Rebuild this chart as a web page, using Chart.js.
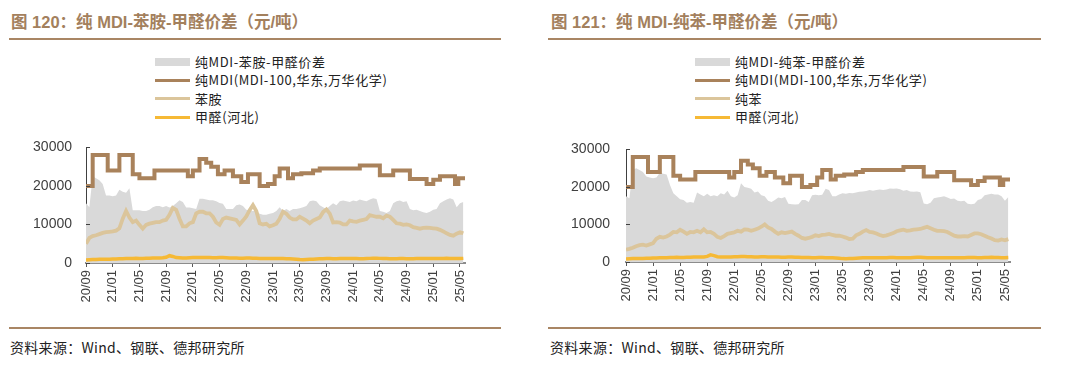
<!DOCTYPE html>
<html>
<head>
<meta charset="utf-8">
<script src="https://cdn.jsdelivr.net/npm/chart.js@4"></script>
<style>
body{margin:0;width:1080px;height:378px;background:#fff;position:relative;overflow:hidden;font-family:"Liberation Sans",Arial,sans-serif}
.title{position:absolute;top:9px;font-weight:bold;font-size:16.5px;font-family:"Liberation Sans","Noto Sans CJK SC",sans-serif;color:#a3805d;white-space:nowrap}
.rule{position:absolute;height:2px;background:#a98664}
.legend{position:absolute;top:53px;font:13px "Noto Sans CJK SC",sans-serif;letter-spacing:0.6px;color:#222}
.legend div{height:18.3px;line-height:18.3px;display:flex;align-items:center;white-space:nowrap}
.sw{width:35px;margin-right:5px}
.src{position:absolute;top:337px;font:14px "Noto Sans CJK SC",sans-serif;letter-spacing:0.3px;color:#222;white-space:nowrap}
canvas{position:absolute;top:125px}
</style>
</head>
<body>
<div class="title" style="left:11px">图 120：纯 MDI-苯胺-甲醛价差（元/吨）</div>
<div class="rule" style="left:9px;width:492px;top:38px"></div>
<div class="legend" id="legL" style="left:155px"></div>
<canvas id="cL" width="540" height="200" style="left:0"></canvas>
<div class="rule" style="left:9px;width:492px;top:327px"></div>
<div class="src" style="left:10px">资料来源：Wind、钢联、德邦研究所</div>

<div class="title" style="left:551px">图 121：纯 MDI-纯苯-甲醛价差（元/吨）</div>
<div class="rule" style="left:548px;width:493px;top:38px"></div>
<div class="legend" id="legR" style="left:695px"></div>
<canvas id="cR" width="540" height="200" style="left:540px"></canvas>
<div class="rule" style="left:548px;width:493px;top:327px"></div>
<div class="src" style="left:550px">资料来源：Wind、钢联、德邦研究所</div>

<script>
// half-month samples from 2020/09 (index 0) to about 2025/06
var spreadAniline = [
  15500, 14500, 22500, 22000, 21500, 20500, 17500, 17500, 17300, 17500,
  19000, 18500, 18200, 19400, 13700, 13700, 13700, 13500, 13500, 13800,
  14500, 14800, 14800, 14500, 14800, 14400, 14800, 15500, 16300, 15800,
  14400, 14400, 14200, 14000, 16700, 16700, 16500, 16300, 16300, 16000,
  15600, 15400, 14000, 14000, 14000, 15000, 15200, 14800, 13800, 13700,
  13500, 13500, 12800, 12500, 12500, 12800, 13000, 13500, 14500, 13500,
  14000, 13500, 14000, 14000, 14200, 14500, 14800, 16000, 16200, 16000,
  15000, 14500, 14000, 14800, 15500, 15000, 16000, 16200, 16000, 15800,
  16200, 16000, 16500, 16200, 16000, 16500, 16800, 16600, 13500, 13300,
  13000, 13500, 15500, 16000, 16200, 15800, 16000, 14000, 13700, 13800,
  13500, 13200, 13000, 13300, 13800, 14000, 15500, 16000, 16500, 16800,
  16500, 14500, 15500, 15800
];
var aniline = [
  5000, 6500, 7000, 7200, 7500, 7800, 8000, 8100, 8200, 8400,
  9000, 11500, 13500, 11800, 10600, 11000, 9900, 8900, 9900, 10200,
  10400, 10600, 10600, 11000, 11200, 12500, 14300, 13800, 11500, 9500,
  9500, 10300, 10600, 12900, 13300, 13300, 12900, 12900, 12000, 10500,
  9900, 11400, 11800, 11600, 11400, 11200, 10000, 11000, 12100, 13700,
  15000, 13500, 10300, 10000, 10200, 9500, 9800, 10200, 11500, 13300,
  12800, 11800, 11300, 11300, 12000, 11500, 11000, 10300, 11000, 11400,
  11800, 13200, 13900, 12800, 10500, 10600, 10500, 10000, 10000, 11000,
  10800, 10700, 11000, 11200, 11400, 12400, 12200, 12000, 12000, 11600,
  12300, 12000, 11200, 10300, 10200, 9900, 10000, 9800, 9300, 9100,
  8900, 9100, 9200, 9100, 9000, 8900, 8600, 8200, 7700, 7300,
  7100, 7600, 8000, 7700
];
var spreadBenzene = [
  17500, 17000, 24500, 25000, 24500, 24000, 22800, 22500, 22300, 22500,
  23800, 23500, 23300, 20500, 18300, 17500, 16700, 16500, 15800, 16000,
  15800, 18500, 18000, 17500, 18200, 17500, 17800, 17500, 18300, 18000,
  19000, 17500, 17200, 17800, 21000, 20000, 19800, 19500, 18500, 18800,
  17800, 17500, 16300, 16000, 16500, 17200, 17000, 17300, 15500, 15400,
  15300, 15400, 16500, 16500, 16000, 17800, 17900, 17800, 17900, 19500,
  19200, 17500, 17500, 18000, 18300, 18200, 18400, 18300, 18500, 18700,
  18800, 18900, 19200, 19000, 19200, 19300, 19200, 19300, 19600, 19500,
  19600, 19400, 19000, 19200, 18800, 18700, 18800, 18600, 15600, 15400,
  15800, 17000, 17200, 17300, 17500, 17200, 16800, 16900, 16300, 16200,
  16300, 15500, 15400, 15500, 16500, 16800, 17800, 18000, 18200, 18000,
  18000, 17500, 16300, 17300
];
var benzene = [
  3300, 3500, 3800, 4200, 4500, 4600, 4400, 4700, 5000, 6200,
  6700, 6500, 6800, 7300, 8000, 7900, 8600, 8100, 7500, 8000,
  7900, 8300, 7900, 8700, 7900, 8000, 7500, 6700, 6400, 6900,
  7500, 7700, 7900, 8300, 8100, 8700, 8600, 8300, 8600, 8900,
  9400, 10000, 9200, 8800, 8100, 7500, 7900, 7700, 7900, 8100,
  7500, 7000, 6400, 6200, 6400, 6700, 7100, 6900, 7200, 7300,
  7500, 7200, 7000, 7000, 6800, 6500, 6100, 6200, 7100, 7500,
  8100, 8500, 8000, 7900, 7600, 7200, 6900, 7100, 7400, 7700,
  8200, 8400, 8600, 8300, 8400, 8600, 8700, 8800, 9100, 9400,
  9000, 8600, 8300, 8300, 8200, 8000, 7500, 7000, 6800, 6800,
  6900, 6800, 7200, 7600, 7600, 7400, 7000, 6600, 6250, 5800,
  5700, 6000, 5800, 6100
];
var formaldehyde = [
  800, 850, 900, 900, 950, 950, 1000, 1000, 1050, 1050,
  1100, 1100, 1150, 1200, 1200, 1250, 1200, 1200, 1250, 1250,
  1300, 1300, 1300, 1350, 1500, 1900, 1700, 1400, 1350, 1300,
  1300, 1350, 1400, 1400, 1450, 1450, 1400, 1400, 1350, 1350,
  1400, 1400, 1350, 1300, 1300, 1300, 1250, 1250, 1300, 1300,
  1250, 1250, 1200, 1200, 1200, 1150, 1150, 1200, 1200, 1150,
  1100, 1100, 1050, 1000, 900, 850, 900, 950, 1000, 1050,
  1100, 1100, 1150, 1150, 1100, 1100, 1150, 1150, 1200, 1200,
  1150, 1150, 1100, 1100, 1150, 1200, 1250, 1250, 1200, 1150,
  1150, 1100, 1100, 1100, 1150, 1150, 1100, 1100, 1100, 1150,
  1150, 1200, 1200, 1200, 1150, 1150, 1200, 1200, 1250, 1200,
  1200, 1150, 1150, 1200
];
// MDI list price changes: month offset from 2020/09 and new price
var mdiMonth = [0, 1, 3.25, 5, 7, 8, 10.25, 15.25, 16, 17, 18, 18.75, 19.75, 20.75, 22, 23.25,
  24.25, 26, 27.25, 28.25, 29, 30.25, 31, 32.25, 34, 35, 41, 44, 46, 48.5, 51, 52, 53, 55.25, 55.75, 56.75];
var mdiPrice = [20000, 28000, 24000, 28000, 23000, 22000, 24000, 22500, 24000, 27000, 26000, 25000, 23000, 24000, 22500, 21000,
  23000, 20000, 20500, 22500, 24500, 22000, 23000, 23300, 24000, 24500, 25300, 22800, 24000, 21800, 20500, 21600, 22500, 20500, 22000, 22000];

var yTicks = [0, 10000, 20000, 30000];

function pts(arr) {
  return arr.map(function (v, i) { return { x: i / 2, y: v }; });
}
function monthLabel(v) {
  var t = 2020 * 12 + 8 + v;
  var yy = Math.floor(t / 12) % 100, mm = t % 12 + 1;
  return (yy < 10 ? '0' : '') + yy + '/' + (mm < 10 ? '0' : '') + mm;
}

var innerTicks = {
  id: 'innerTicks',
  afterDatasetsDraw: function (chart) {
    var y = chart.scales.y, ctx = chart.ctx, x0 = chart.chartArea.left;
    ctx.save();
    ctx.strokeStyle = '#404040';
    ctx.lineWidth = 1;
    y.ticks.forEach(function (t) {
      var py = Math.round(y.getPixelForValue(t.value)) + 0.5;
      ctx.beginPath(); ctx.moveTo(x0, py); ctx.lineTo(x0 + 4, py); ctx.stroke();
    });
    ctx.restore();
  }
};

var colors = ['#d9d9d9', '#a9825b', '#dbc59b', '#f6b935'];

function makeChart(id, legendId, names, spread, feed, lay) {
  var mdi = mdiMonth.map(function (m, i) { return { x: m, y: mdiPrice[i] }; });
  var chart = new Chart(document.getElementById(id).getContext('2d'), {
    type: 'line',
    data: {
      datasets: [
        { label: names[0], data: pts(spread), fill: 'origin', backgroundColor: colors[0], borderWidth: 0, pointRadius: 0, order: 4 },
        { label: names[1], data: mdi, stepped: true, borderColor: colors[1], borderWidth: 4, pointRadius: 0, fill: false, order: 1 },
        { label: names[2], data: pts(feed), borderColor: colors[2], borderWidth: 3.8, pointRadius: 0, fill: false, order: 2 },
        { label: names[3], data: pts(formaldehyde), borderColor: colors[3], borderWidth: 3.5, pointRadius: 0, fill: false, order: 3 }
      ]
    },
    options: {
      responsive: false,
      animation: false,
      layout: { padding: { top: lay.top, right: lay.right, left: 0, bottom: 0 } },
      plugins: { legend: { display: false }, tooltip: { enabled: false } },
      scales: {
        x: {
          type: 'linear', min: 0, max: 56.75,
          ticks: {
            stepSize: 4, includeBounds: false, autoSkip: false, minRotation: 90, maxRotation: 90,
            color: '#404040', font: { family: 'Liberation Sans', size: 13 }, padding: 3,
            callback: function (v) { return monthLabel(v); }
          },
          grid: { drawOnChartArea: false, tickLength: 4, color: '#595959' },
          border: { color: '#8c8c8c', width: 2 },
          afterFit: function (s) { s.height = lay.xh; }
        },
        y: {
          min: 0, max: 30000,
          afterBuildTicks: function (s) { s.ticks = yTicks.map(function (v) { return { value: v }; }); },
          ticks: {
            color: '#404040', font: { family: 'Liberation Sans', size: 14 }, padding: lay.ypad,
            callback: function (v) { return String(v); }
          },
          grid: { drawOnChartArea: false, drawTicks: false },
          border: { color: '#404040', width: 1 },
          afterFit: function (s) { s.width = lay.yw; }
        }
      }
    },
    plugins: [innerTicks]
  });

  var leg = document.getElementById(legendId);
  chart.data.datasets.forEach(function (ds, i) {
    var row = document.createElement('div');
    var sw = document.createElement('span');
    sw.className = 'sw';
    sw.style.height = i === 0 ? '8px' : '3px';
    sw.style.background = colors[i];
    row.appendChild(sw);
    row.appendChild(document.createTextNode(ds.label));
    leg.appendChild(row);
  });
  return chart;
}

makeChart('cL', 'legL', ['纯MDI-苯胺-甲醛价差', '纯MDI(MDI-100,华东,万华化学)', '苯胺', '甲醛(河北)'],
  spreadAniline, aniline, { top: 8, right: 75, xh: 62, yw: 86, ypad: 14 });
makeChart('cR', 'legR', ['纯MDI-纯苯-甲醛价差', '纯MDI(MDI-100,华东,万华化学)', '纯苯', '甲醛(河北)'],
  spreadBenzene, benzene, { top: 17, right: 70, xh: 63, yw: 86, ypad: 16 });
</script>
</body>
</html>
